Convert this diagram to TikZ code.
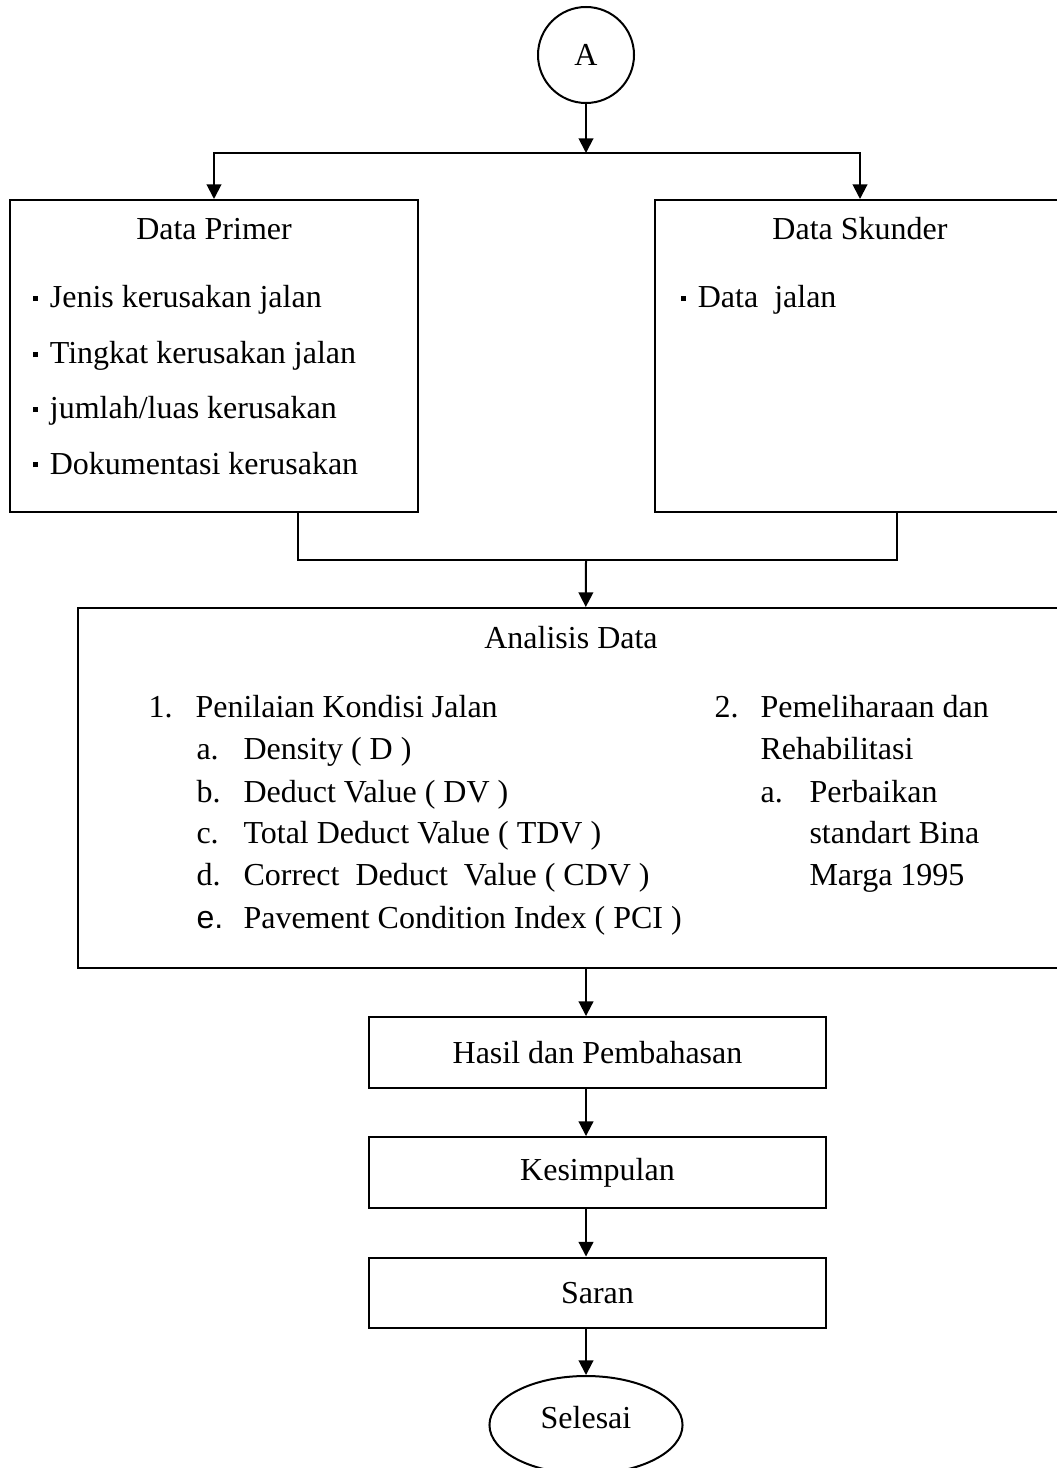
\documentclass[tikz,border=0pt]{standalone}
\usepackage{fontspec}
\setmainfont{Liberation Serif}
\newfontfamily\arialfont{Liberation Sans}
\usepackage{tikz}
\usetikzlibrary{shapes.geometric,arrows.meta}
\newcommand{\sqbul}{\raisebox{2.6pt}{\rule{2pt}{2pt}}}
\tikzset{
  line/.style = {draw, line width=0.75pt},
  arr/.style  = {line, -{Triangle[length=5.5pt,width=5.5pt]}},
  box/.style  = {draw, line width=0.75pt, rectangle, inner sep=0pt},
  txt/.style  = {anchor=base west, inner sep=0pt},
  ttl/.style  = {anchor=base, inner sep=0pt}
}
\begin{document}
\begin{tikzpicture}[x=0.375pt, y=-0.375pt, font=\fontsize{12}{14}\selectfont]
	\useasboundingbox (0,0) rectangle (1057,1468);
	\node[draw, line width=0.75pt, circle, minimum size=36pt, inner sep=0pt] (A) at (586,55) {A};
	\coordinate (split) at (586,153);
	\node[box, minimum width=153pt, minimum height=117pt] (primer) at (214,356) {};
	\node[box, minimum width=153.75pt, minimum height=117pt] (skunder) at (860,356) {};
	\node[ttl] (primerT) at (214,240) {Data Primer};
	\node[ttl] (skunderT) at (860,240) {Data Skunder};
	\node[txt] (p1) at (32,308) {\sqbul\hspace{4.5pt}Jenis kerusakan jalan};
	\node[txt] (p2) at (32,364) {\sqbul\hspace{4.5pt}Tingkat kerusakan jalan};
	\node[txt] (p3) at (32,419) {\sqbul\hspace{4.5pt}jumlah/luas kerusakan};
	\node[txt] (p4) at (32,474) {\sqbul\hspace{4.5pt}Dokumentasi kerusakan};
	\node[txt] (s1) at (680,308) {\sqbul\hspace{4.5pt}Data\ \ jalan};
	\coordinate (merge) at (586,560);
	\node[box, minimum width=380.25pt, minimum height=135pt] (analisis) at (585,788) {};
	\node[ttl] (analisisT) at (571,648) {Analisis Data};
	\node[txt] (n1) at (148,717) {1.};
	\node[txt] (k0) at (195,717) {Penilaian Kondisi Jalan};
	\node[txt] (la) at (196,759) {a.};
	\node[txt] (ka) at (243,759) {Density ( D )};
	\node[txt] (lb) at (196,802) {b.};
	\node[txt] (kb) at (243,802) {Deduct Value ( DV )};
	\node[txt] (lc) at (196,843) {c.};
	\node[txt] (kc) at (243,843) {Total Deduct Value ( TDV )};
	\node[txt] (ld) at (196,885) {d.};
	\node[txt] (kd) at (243,885) {Correct\ \ Deduct\ \ Value ( CDV )};
	\node[txt] (le) at (196,928) {\arialfont e.};
	\node[txt] (ke) at (243,928) {Pavement Condition Index ( PCI )};
	\node[txt] (n2) at (714,717) {2.};
	\node[txt] (r0) at (760,717) {Pemeliharaan dan};
	\node[txt] (r1) at (760,759) {Rehabilitasi};
	\node[txt] (ra) at (760,802) {a.};
	\node[txt] (r2) at (809,802) {Perbaikan};
	\node[txt] (r3) at (809,843) {standart Bina};
	\node[txt] (r4) at (809,885) {Marga 1995};
	\node[box, minimum width=171.4pt, minimum height=26.6pt] (hasil) at (597.5,1052.5) {Hasil dan Pembahasan};
	\node[box, minimum width=171.4pt, minimum height=26.6pt] (kesimpulan) at (597.5,1172.5) {Kesimpulan};
	\node[box, minimum width=171.4pt, minimum height=26.6pt] (saran) at (597.5,1293) {Saran};
	\node[draw, line width=0.75pt, ellipse, minimum width=72.4pt, minimum height=36.75pt, inner sep=0pt] (selesai) at (586,1425) {};
	\node[ttl] (selesaiT) at (586,1428) {Selesai};
	\draw[arr] (A) -- (split);
	\draw[arr] (split) -| (primer);
	\draw[arr] (split) -| (skunder);
	\draw[line] ([xshift=31.5pt]primer.south) |- (merge);
	\draw[line] ([xshift=13.9pt]skunder.south) |- (merge);
	\draw[arr] (merge) -- (analisis);
	\draw[arr] (analisis.south -| A) -- (hasil.north -| A);
	\draw[arr] (hasil.south -| A) -- (kesimpulan.north -| A);
	\draw[arr] (kesimpulan.south -| A) -- (saran.north -| A);
	\draw[arr] (saran.south -| A) -- (selesai);
\end{tikzpicture}
\end{document}
